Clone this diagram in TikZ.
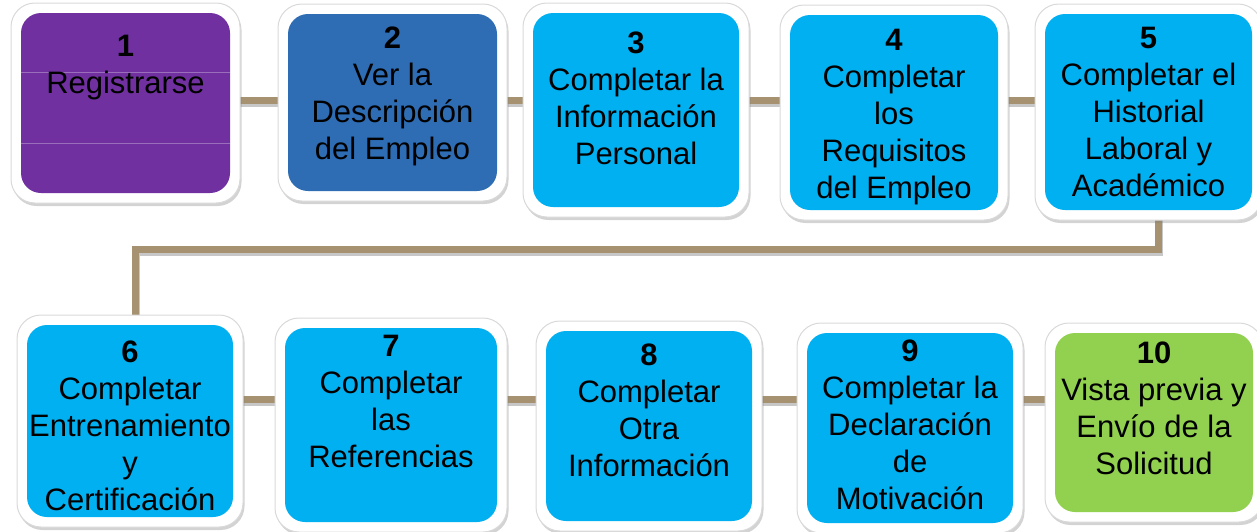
\documentclass[tikz,border=0pt]{standalone}
\usepackage{fontspec}
\setmainfont{Liberation Sans}
\usetikzlibrary{positioning}
\usetikzlibrary{shadows}
\usetikzlibrary{backgrounds}
\tikzset{stepframe/.style = {rounded corners=24pt, fill=white, draw=black!15,
                             line width=1pt, inner sep=0pt,
                             drop shadow={shadow xshift=1.5pt, shadow yshift=-3pt, opacity=0.35}}}
\tikzset{stepbox/.style = {rounded corners=20pt, inner sep=0pt}}
\tikzset{steptext/.style = {align=center, inner sep=0pt,
                            font=\fontsize{31}{37}\selectfont}}
\tikzset{link/.style = {draw=mtan, line width=7pt,
                        preaction={draw=black!22, line width=8pt,
                                   transform canvas={xshift=0.5pt, yshift=-2.5pt}}}}
\definecolor{mpurple}{RGB}{112, 48, 160}
\definecolor{mblue}{RGB}{46, 108, 180}
\definecolor{mcyan}{RGB}{0, 176, 240}
\definecolor{mgreen}{RGB}{146, 208, 80}
\definecolor{mtan}{RGB}{166, 146, 112}

\begin{document}
\begin{tikzpicture}[x=1pt, y=-1pt]
    \useasboundingbox (0, 0) rectangle (1257, 531);

    % first row
    \node [stepframe, minimum width=229pt, minimum height=200pt] (f1) at (125.5, 103) {};
    \node [stepbox, fill=mpurple, minimum width=209pt, minimum height=180pt] (b1) at (f1) {};
    \draw [mpurple!70!white, line width=0.7pt] (b1.west |- 0, 72) -- (b1.east |- 0, 72);
    \draw [mpurple!70!white, line width=0.7pt] (b1.west |- 0, 143) -- (b1.east |- 0, 143);
    \node [steptext, below=22pt of b1.north] (t1) {\textbf{1}\\Registrarse};

    \node [stepframe, minimum width=229pt, minimum height=197pt] (f2) at (392.5, 102.5) {};
    \node [stepbox, fill=mblue, minimum width=209pt, minimum height=177pt] (b2) at (f2) {};
    \node [steptext, below=13pt of b2.north] (t2) {\textbf{2}\\Ver la\\Descripción\\del Empleo};

    \node [stepframe, minimum width=226pt, minimum height=214pt] (f3) at (636, 110) {};
    \node [stepbox, fill=mcyan, minimum width=206pt, minimum height=194pt] (b3) at (f3) {};
    \node [steptext, below=19pt of b3.north] (t3) {\textbf{3}\\Completar la\\Información\\Personal};

    \node [stepframe, minimum width=228pt, minimum height=215pt] (f4) at (894, 112.5) {};
    \node [stepbox, fill=mcyan, minimum width=208pt, minimum height=195pt] (b4) at (f4) {};
    \node [steptext, below=14pt of b4.north] (t4) {\textbf{4}\\Completar\\los\\Requisitos\\del Empleo};

    \node [stepframe, minimum width=227pt, minimum height=216pt] (f5) at (1148.5, 112) {};
    \node [stepbox, fill=mcyan, minimum width=207pt, minimum height=196pt] (b5) at (f5) {};
    \node [steptext, below=13pt of b5.north] (t5) {\textbf{5}\\Completar el\\Historial\\Laboral y\\Académico};

    % second row
    \node [stepframe, minimum width=226pt, minimum height=212pt] (f6) at (130, 421) {};
    \node [stepbox, fill=mcyan, minimum width=206pt, minimum height=192pt] (b6) at (f6) {};
    \node [steptext, below=16pt of b6.north] (t6) {\textbf{6}\\Completar\\Entrenamiento\\y\\Certificación};

    \node [stepframe, minimum width=232pt, minimum height=214pt] (f7) at (391, 425) {};
    \node [stepbox, fill=mcyan, minimum width=212pt, minimum height=194pt] (b7) at (f7) {};
    \node [steptext, below=7pt of b7.north] (t7) {\textbf{7}\\Completar\\las\\Referencias};

    \node [stepframe, minimum width=226pt, minimum height=210pt] (f8) at (649, 426) {};
    \node [stepbox, fill=mcyan, minimum width=206pt, minimum height=190pt] (b8) at (f8) {};
    \node [steptext, below=13pt of b8.north] (t8) {\textbf{8}\\Completar\\Otra\\Información};

    \node [stepframe, minimum width=226pt, minimum height=210pt] (f9) at (910, 428) {};
    \node [stepbox, fill=mcyan, minimum width=206pt, minimum height=190pt] (b9) at (f9) {};
    \node [steptext, below=7pt of b9.north] (t9) {\textbf{9}\\Completar la\\Declaración\\de\\Motivación};

    \node [stepframe, minimum width=218pt, minimum height=199pt] (f10) at (1154, 422.5) {};
    \node [stepbox, fill=mgreen, minimum width=198pt, minimum height=179pt] (b10) at (f10) {};
    \node [steptext, below=9pt of b10.north] (t10) {\textbf{10}\\Vista previa y\\Envío de la\\Solicitud};

    % connectors
    \begin{pgfonlayer}{background}
      \coordinate (row1) at (0, 100);
      \coordinate (row2) at (0, 399);
      \coordinate (turnR) at (1158, 249);
      \coordinate (turnL) at (135, 249);
      \draw [link] (b1 |- row1) -- (b2 |- row1);
      \draw [link] (b2 |- row1) -- (b3 |- row1);
      \draw [link] (b3 |- row1) -- (b4 |- row1);
      \draw [link] (b4 |- row1) -- (b5 |- row1);
      \draw [link] (b5.south -| turnR) -- (turnR) -- (turnL) -- (b6.north -| turnL);
      \draw [link] (b6 |- row2) -- (b7 |- row2);
      \draw [link] (b7 |- row2) -- (b8 |- row2);
      \draw [link] (b8 |- row2) -- (b9 |- row2);
      \draw [link] (b9 |- row2) -- (b10 |- row2);
    \end{pgfonlayer}
\end{tikzpicture}
\end{document}
